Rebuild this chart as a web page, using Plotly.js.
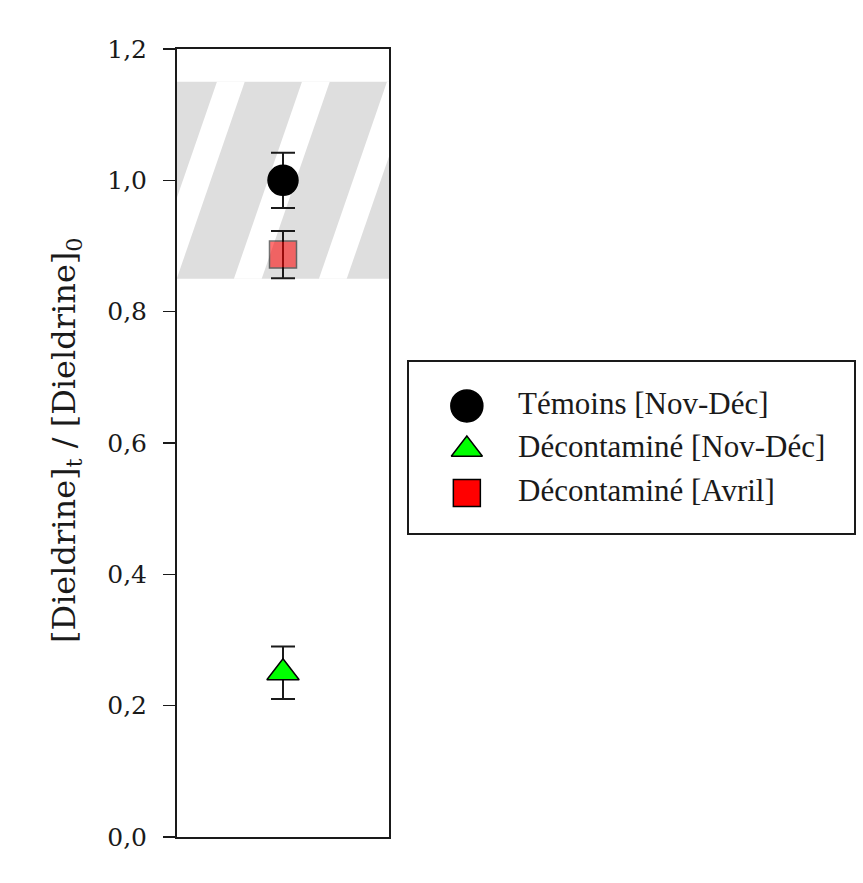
<!DOCTYPE html>
<html>
<head>
<meta charset="utf-8">
<script src="https://cdn.plot.ly/plotly-3.0.1.min.js"></script>
<style>html,body{margin:0;padding:0;background:#fff;}#chart{width:863px;height:883px;}</style>
</head>
<body>
<div id="chart"></div>
<script>
// ---- data ----
const seriesNames = ['Témoins [Nov-Déc]', 'Décontaminé [Nov-Déc]', 'Décontaminé [Avril]'];
const seriesX = [1, 1, 1];
const seriesY = [1.0, 0.25, 0.887];
const seriesErr = [0.042, 0.04, 0.036];
const yTickVals = [0, 0.2, 0.4, 0.6, 0.8, 1.0, 1.2];
const yTickText = ['0,0', '0,2', '0,4', '0,6', '0,8', '1,0', '1,2'];
const refBand = [0.85, 1.15];
const yTitle = '[Dieldrine]<sub>t</sub> / [Dieldrine]<sub>0</sub>';

// ---- styles ----
const symbols = ['circle', 'triangle-up', 'square'];
const colors = ['#000000', '#00ff00', '#ff0000'];
const sizes = [30, 28, 27];
const opac = [1, 1, 0.55];
const legendSizes = [32, 27, 27];
const ink = '#1a1a1a';
const W = 863, H = 883;

const traces = seriesNames.map((n, i) => ({
  type: 'scatter', mode: 'markers', name: n,
  x: [seriesX[i]], y: [seriesY[i]],
  error_y: {type: 'data', array: [seriesErr[i]], visible: true, color: '#1a1a1a', thickness: 2, width: 12},
  marker: {symbol: symbols[i], color: colors[i], size: sizes[i], opacity: opac[i], line: {color: '#000', width: 1.5}},
  xaxis: 'x', yaxis: 'y', showlegend: false, cliponaxis: false
}));

// manual legend (second subplot)
const rows = seriesNames.map((n, i) => seriesNames.length - 1 - i);
traces.push({
  type: 'scatter', mode: 'markers', x: seriesNames.map(() => 0.13), y: rows,
  marker: {symbol: symbols, color: colors, size: legendSizes, opacity: 1, line: {color: '#000', width: 1.5}},
  xaxis: 'x2', yaxis: 'y2', showlegend: false, cliponaxis: false
});
traces.push({
  type: 'scatter', mode: 'text', x: seriesNames.map(() => 0.245), y: rows,
  text: seriesNames, textposition: 'middle right',
  textfont: {family: 'Liberation Serif, Times New Roman, serif', size: 31, color: ink},
  xaxis: 'x2', yaxis: 'y2', showlegend: false, cliponaxis: false
});

// hatched reference band: grey rect + white diagonal stripes
const shapes = [{
  type: 'rect', xref: 'x domain', yref: 'y', x0: 0, x1: 1, y0: refBand[0], y1: refBand[1],
  fillcolor: '#dedede', line: {width: 0}, layer: 'below'
}];
const period = 0.802, sw = 0.262, shift = 0.642;
for (let s = 0.377 - period; s < 2.2; s += period) {
  shapes.push({
    type: 'path', xref: 'x', yref: 'y', layer: 'below',
    path: `M${s},${refBand[1]} L${s + sw},${refBand[1]} L${s + sw - shift},${refBand[0]} L${s - shift},${refBand[0]} Z`,
    fillcolor: '#ffffff', line: {width: 0}
  });
}

const layout = {
  width: W, height: H,
  margin: {l: 0, r: 0, t: 0, b: 0},
  paper_bgcolor: '#fff', plot_bgcolor: 'rgba(0,0,0,0)',
  showlegend: false,
  xaxis: {
    domain: [177 / W, 389 / W], range: [0, 2], showline: true, mirror: true, linewidth: 2, linecolor: ink,
    showticklabels: false, ticks: '', showgrid: false, zeroline: false, fixedrange: true
  },
  yaxis: {
    domain: [(H - 837) / H, (H - 49) / H], range: [0, 1.2], tickvals: yTickVals, ticktext: yTickText,
    showline: true, mirror: true, linewidth: 2, linecolor: ink,
    ticks: 'outside', ticklen: 12, tickwidth: 1.5, tickcolor: ink, ticklabelstandoff: 11,
    tickfont: {family: 'DejaVu Serif, serif', size: 25, color: ink},
    showgrid: false, zeroline: false, fixedrange: true
  },
  xaxis2: {
    domain: [409 / W, 854 / W], range: [0, 1], anchor: 'y2', showline: true, mirror: true, linewidth: 2, linecolor: ink,
    showticklabels: false, ticks: '', showgrid: false, zeroline: false
  },
  yaxis2: {
    domain: [(H - 533) / H, (H - 362) / H], range: [-0.92, 3.01], anchor: 'x2', showline: true, mirror: true, linewidth: 2, linecolor: ink,
    showticklabels: false, ticks: '', showgrid: false, zeroline: false
  },
  shapes: shapes,
  annotations: [{
    text: yTitle, xref: 'paper', yref: 'paper', x: 66 / W, y: (H - 440) / H,
    xanchor: 'center', yanchor: 'middle', textangle: -90, showarrow: false,
    font: {family: 'DejaVu Serif, serif', size: 32, color: ink}
  }]
};

Plotly.newPlot('chart', traces, layout, {staticPlot: true, displayModeBar: false});
</script>
</body>
</html>
